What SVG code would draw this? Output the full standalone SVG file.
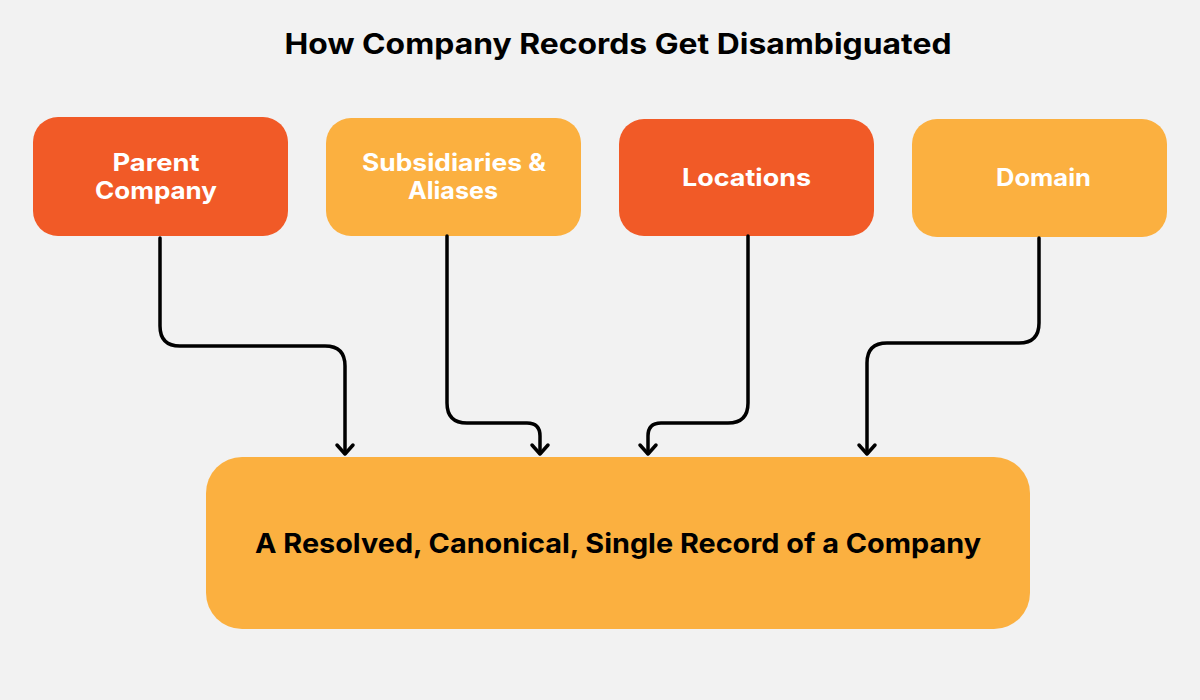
<svg xmlns="http://www.w3.org/2000/svg" width="1200" height="700" viewBox="0 0 1200 700">
<defs>
<style>
.bg{fill:#f2f2f2}
.red{fill:#f15a27}
.amb{fill:#fbb040}
.lbl{font-family:Inter,"Liberation Sans",sans-serif;font-weight:700;fill:#ffffff;font-size:24px;text-anchor:middle}
.title{font-family:Inter,"Liberation Sans",sans-serif;font-weight:700;fill:#000;font-size:28px;text-anchor:middle}
.main{font-family:Inter,"Liberation Sans",sans-serif;font-weight:700;fill:#000;font-size:27px;text-anchor:middle}
.conn{fill:none;stroke:#000;stroke-width:3.5;stroke-linecap:round;stroke-linejoin:round}
</style>
</defs>
<rect class="bg" x="0" y="0" width="1200" height="700"/>
<text class="title" x="618" y="54" textLength="667" lengthAdjust="spacingAndGlyphs">How Company Records Get Disambiguated</text>
<g id="node-parent">
<rect class="red" x="33" y="117" width="255" height="119" rx="25"/>
<text class="lbl" x="156" y="171" textLength="87" lengthAdjust="spacingAndGlyphs">Parent</text>
<text class="lbl" x="156" y="199" textLength="122" lengthAdjust="spacingAndGlyphs">Company</text>
</g>
<g id="node-subsidiaries">
<rect class="amb" x="326" y="118" width="255" height="118" rx="25"/>
<text class="lbl" x="454" y="171" textLength="184" lengthAdjust="spacingAndGlyphs">Subsidiaries &amp;</text>
<text class="lbl" x="453" y="199" textLength="90" lengthAdjust="spacingAndGlyphs">Aliases</text>
</g>
<g id="node-locations">
<rect class="red" x="619" y="119" width="255" height="117" rx="25"/>
<text class="lbl" x="746.5" y="186" textLength="129" lengthAdjust="spacingAndGlyphs">Locations</text>
</g>
<g id="node-domain">
<rect class="amb" x="912" y="119" width="255" height="118" rx="25"/>
<text class="lbl" x="1043.5" y="186" textLength="95" lengthAdjust="spacingAndGlyphs">Domain</text>
</g>
<g id="node-result">
<rect class="amb" x="206" y="457" width="824" height="172" rx="36"/>
<text class="main" x="618" y="553" textLength="726" lengthAdjust="spacingAndGlyphs">A Resolved, Canonical, Single Record of a Company</text>
</g>
<g id="connectors">
<path class="conn" d="M160 238 V326 Q160 346 180 346 H325 Q345 346 345 366 V453"/>
<path class="conn" d="M337 445 L345 454 L353 445"/>
<path class="conn" d="M447 236 V403 Q447 423 467 423 H527 Q540 423 540 436 V453"/>
<path class="conn" d="M532 445 L540 454 L548 445"/>
<path class="conn" d="M748 236 V403 Q748 423 728 423 H661 Q648 423 648 436 V453"/>
<path class="conn" d="M640 445 L648 454 L656 445"/>
<path class="conn" d="M1039 238 V323 Q1039 343 1019 343 H887 Q867 343 867 363 V453"/>
<path class="conn" d="M859 445 L867 454 L875 445"/>
</g>
</svg>
